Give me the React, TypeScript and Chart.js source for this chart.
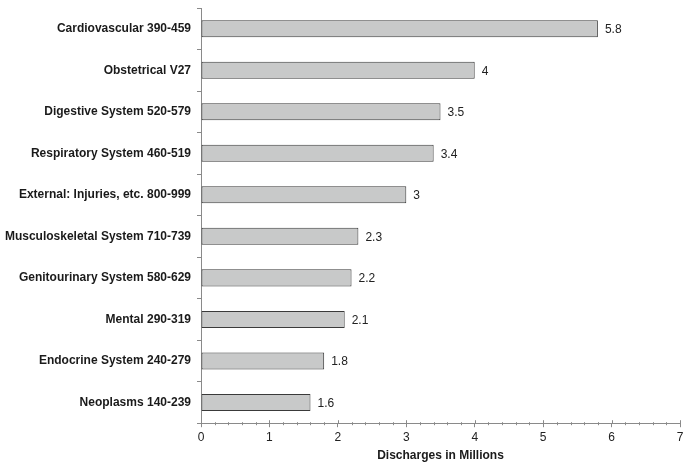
import React, { useEffect, useRef } from "react";
import { Chart, registerables } from "chart.js";

Chart.register(...registerables);

const categories = [
  "Cardiovascular 390-459",
  "Obstetrical V27",
  "Digestive System 520-579",
  "Respiratory System 460-519",
  "External: Injuries, etc. 800-999",
  "Musculoskeletal System 710-739",
  "Genitourinary System 580-629",
  "Mental 290-319",
  "Endocrine System 240-279",
  "Neoplasms 140-239",
];
const discharges = [5.8, 4, 3.5, 3.4, 3, 2.3, 2.2, 2.1, 1.8, 1.6];
const xTicks = [0, 1, 2, 3, 4, 5, 6, 7];
const xTitle = "Discharges in Millions";

const FONT = "'Liberation Sans', Arial, Helvetica, sans-serif";
const AXIS = "#8a8a8a";

const extrasPlugin = {
  id: "extras",
  afterDraw(chart: any) {
    const ctx = chart.ctx;
    const xs = chart.scales.x;
    const y0 = xs.top;
    ctx.save();
    ctx.strokeStyle = AXIS;
    ctx.lineWidth = 1;
    ctx.beginPath();
    for (let i = 0; i <= 35; i++) {
      const v = i / 5;
      const px = Math.round(xs.getPixelForValue(v)) + 0.5;
      if (i % 5 === 0) {
        ctx.moveTo(px, y0 - 3);
        ctx.lineTo(px, y0);
      } else {
        ctx.moveTo(px, y0 - 1);
        ctx.lineTo(px, y0 + 2);
      }
    }
    ctx.stroke();
    // value labels
    const meta = chart.getDatasetMeta(0);
    ctx.fillStyle = "#222";
    ctx.font = `12px ${FONT}`;
    ctx.textBaseline = "middle";
    ctx.textAlign = "left";
    meta.data.forEach((bar: any, i: number) => {
      ctx.fillText(String(discharges[i]), bar.x + 7, bar.y + 1);
    });
    ctx.restore();
  },
};

export default function App() {
  const ref = useRef<HTMLCanvasElement | null>(null);
  useEffect(() => {
    if (!ref.current) return;
    const chart = new Chart(ref.current, {
      type: "bar",
      data: {
        labels: categories,
        datasets: [
          {
            data: discharges,
            backgroundColor: "#c8c9c9",
            borderColor: "#3a3a3a",
            borderWidth: 1,
            borderSkipped: false,
            barPercentage: 0.41,
            categoryPercentage: 1,
          },
        ],
      },
      options: {
        indexAxis: "y",
        animation: false,
        responsive: true,
        maintainAspectRatio: false,
        layout: { padding: { top: 8, right: 12, bottom: 2, left: 0 } },
        plugins: {
          legend: { display: false },
          tooltip: { enabled: false },
        },
        scales: {
          x: {
            min: 0,
            max: 7,
            afterBuildTicks: (scale: any) => {
              scale.ticks = xTicks.map((v) => ({ value: v }));
            },
            grid: {
              drawOnChartArea: false,
              drawTicks: true,
              tickLength: 4,
              color: AXIS,
            },
            border: { color: AXIS, width: 1 },
            ticks: {
              color: "#222",
              font: { family: FONT, size: 12 },
              padding: 3,
              maxRotation: 0,
            },
            title: {
              display: true,
              text: xTitle,
              color: "#1a1a1a",
              font: { family: FONT, size: 12, weight: "bold" },
              padding: { top: 1, bottom: 4 },
            },
          },
          y: {
            afterFit: (scale: any) => {
              scale.width = 201;
              scale.paddingTop = 0;
              scale.paddingBottom = 0;
            },
            grid: {
              drawOnChartArea: false,
              drawTicks: true,
              tickLength: 4,
              offset: true,
              color: AXIS,
            },
            border: { color: AXIS, width: 1 },
            ticks: {
              color: "#1a1a1a",
              font: { family: FONT, size: 12, weight: "bold" },
              padding: 6,
            },
          },
        },
      },
      plugins: [extrasPlugin],
    } as any);
    return () => chart.destroy();
  }, []);
  return (
    <div style={{ position: "fixed", left: 0, top: 0, width: 692, height: 469, background: "#fff" }}>
      <canvas ref={ref} />
    </div>
  );
}
